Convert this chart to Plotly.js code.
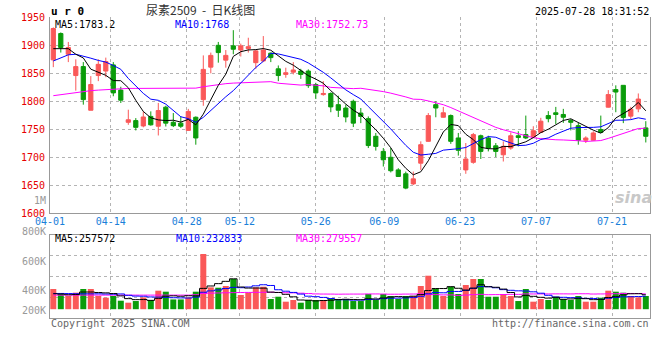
<!DOCTYPE html>
<html>
<head>
<meta charset="utf-8">
<script src="https://cdn.plot.ly/plotly-3.0.1.min.js"></script>
<style>html,body{margin:0;padding:0;background:#fff;}#chart{width:660px;height:360px;}</style>
</head>
<body>
<div id="chart"></div>
<script>
// ---- data ----
const dates = ['04-01','04-02','04-03','04-07','04-08','04-09','04-10','04-11','04-14','04-15',
 '04-16','04-17','04-18','04-21','04-22','04-23','04-24','04-25','04-28','04-29',
 '04-30','05-06','05-07','05-08','05-09','05-12','05-13','05-14','05-15','05-16',
 '05-19','05-20','05-21','05-22','05-23','05-26','05-27','05-28','05-29','05-30',
 '06-03','06-04','06-05','06-06','06-09','06-10','06-11','06-12','06-13','06-16',
 '06-17','06-18','06-19','06-20','06-23','06-24','06-25','06-26','06-27','06-30',
 '07-01','07-02','07-03','07-04','07-07','07-08','07-09','07-10','07-11','07-14',
 '07-15','07-16','07-17','07-18','07-21','07-22','07-23','07-24','07-25','07-28'];
const opens = [1874,1921,1884,1846,1862,1784,1846,1854,1865,1820,
 1762.5,1765.5,1756,1773,1755.5,1789.5,1762.5,1761,1748,1771.5,
 1803,1861,1900,1873.5,1899,1891.5,1894,1869,1872,1886,
 1858,1848,1852,1854,1854,1830,1812,1814,1794,1788,
 1800,1779,1769,1737.5,1710.5,1700,1677.5,1670.5,1652.5,1689.5,
 1728.5,1794,1771.5,1774.5,1734.5,1677.5,1691,1738.5,1734.5,1720.5,
 1704.5,1716.5,1738.5,1740.5,1736.5,1744.5,1774.5,1779.5,1776.5,1765.5,
 1756.5,1730.5,1730.5,1749.5,1789.5,1821,1828.5,1773.5,1786.5,1752.5];
const highs = [1932,1923,1906,1875,1870,1845,1875,1878,1870,1826,
 1785,1770,1782,1782,1797,1792,1779,1773,1786.5,1773,
 1882,1887,1906,1891.5,1927,1903,1913.5,1891.5,1916.5,1887,
 1864,1860,1870,1858,1857,1833,1836,1816,1810,1794,
 1803,1788,1773,1743.5,1716.5,1716.5,1680.5,1674.5,1674.5,1728.5,
 1779,1800,1790,1776.5,1743.5,1725.5,1743.5,1740.5,1738.5,1725.5,
 1728.5,1744.5,1746.5,1774.5,1755.5,1770.5,1782.5,1790,1786.5,1768.5,
 1761.5,1737.5,1746.5,1774.5,1820,1828.5,1828.5,1790,1814,1764.5];
const lows = [1861,1887,1870,1819,1794,1784,1836,1843,1809,1797,
 1758,1748,1753.5,1756.5,1739,1755,1754,1752.5,1747,1722.5,
 1792,1850,1869,1860,1884,1880,1887,1858,1870,1870,
 1836,1842,1848,1840,1824,1804,1810,1780.5,1772,1762.5,
 1754,1761,1716.5,1712,1683.5,1673,1665.5,1643,1650.5,1677.5,
 1728,1771.5,1771,1724,1703,1670.5,1688.5,1697,1710.5,1700.5,
 1692.5,1713.5,1719.5,1732.5,1734.5,1743.5,1762.5,1759.5,1761.5,1748,
 1722.5,1725.5,1730,1743.5,1789,1780.5,1761,1768.5,1780.5,1726.5];
const closes = [1930,1896,1896,1862,1803,1830,1866,1871,1815,1802,
 1767,1753.5,1772,1758,1783.5,1761,1756.5,1755.5,1782,1734.5,
 1857,1882,1887,1882,1893,1899,1897.5,1890,1891.5,1878,
 1846,1851,1856,1848,1828,1815,1814,1790,1784,1772,
 1761,1773,1721,1719.5,1695.5,1676,1665.7,1645,1661.5,1722.5,
 1774.5,1788,1779.5,1728.5,1712.5,1697,1740.5,1710.5,1716.5,1710.5,
 1719.5,1738.5,1735.5,1734.5,1747.5,1764.5,1769,1776.5,1771.5,1762.5,
 1730.5,1734.5,1743.5,1744.5,1812,1816.5,1771,1786,1804,1737.5];
const volumes = [366000,286000,239000,299000,366000,366000,239000,208000,239000,154000,
 118000,148000,214000,167000,335000,317000,177000,177000,214000,317000,
 999000,395000,389000,420000,547000,257000,299000,395000,407000,185000,
 226000,136000,167000,118000,167000,167000,167000,195000,185000,185000,
 148000,148000,275000,167000,275000,239000,185000,239000,239000,420000,
 606000,366000,239000,407000,275000,438000,547000,547000,226000,226000,
 275000,239000,148000,366000,136000,185000,167000,226000,185000,167000,
 239000,136000,136000,208000,335000,317000,299000,239000,214000,239000];
// moving-average values before a full window exists
const ma5Head  = [1894,1894,1894,1884];
const ma10Head = [1872,1878,1883,1884,1881,1877,1873,1870,1864];
const ma30Head = [1810,1812,1814,1816,1818,1819,1820,1821,1822,1822.5,
 1823,1823,1823,1823,1823,1823,1823,1823,1823,1823.5,
 1826,1828,1830,1831.5,1832.5,1833,1833.5,1834,1834.5];
const volMa5Head  = [280000,275000,262000,265000];
const volMa10Head = [285000,285000,283000,280000,278000,278000,278000,275000,272000];
const volMa30Head = [255000,255000,255000,255000,255000,255000,255000,255000,255000,255000,
 255000,255000,255000,255000,255000,255000,255000,255000,255000,262000,
 285000,290000,294000,297000,300000,302000,304000,305000,306000];
const tickDates = ['04-01','04-14','04-28','05-12','05-26','06-09','06-23','07-07','07-21'];
const priceTicks = [1600,1650,1700,1750,1800,1850,1900,1950];
const volTickLabels = ['800K','600K','400K','200K'];
const priceLegend = ['MA5:1783.2','MA10:1768','MA30:1752.73'];
const volLegend = ['MA5:257572','MA10:232833','MA30:279557'];

// ---- styling ----
const UP = '#fa5858', DOWN = '#0a9c0a';
const MONO = '"DejaVu Sans Mono", monospace';
const XBLUE = '#1a80d9', PRED = '#e60000', GRAY = '#999999';
const W = 660, H = 360;
const N = dates.length;
const X0 = -0.44, X1 = X0 + N;

function sma(src, n, head) {
  return src.map((_, i) => {
    if (i < n - 1) return head[i];
    let s = 0;
    for (let k = i - n + 1; k <= i; k++) s += src[k];
    return s / n;
  });
}
const xs = dates.map((_, i) => i);
const ma5 = sma(closes, 5, ma5Head), ma10 = sma(closes, 10, ma10Head), ma30 = sma(closes, 30, ma30Head);
const vma5 = sma(volumes, 5, volMa5Head), vma10 = sma(volumes, 10, volMa10Head), vma30 = sma(volumes, 30, volMa30Head);
const barColors = closes.map((c, i) => c >= opens[i] ? UP : DOWN);

const tickVals = tickDates.map(d => X0 + dates.indexOf(d) * N / (N - 1));

const traces = [
  {type:'candlestick', x:xs, open:opens, high:highs, low:lows, close:closes, xaxis:'x', yaxis:'y',
   increasing:{line:{color:UP,width:1}, fillcolor:UP}, decreasing:{line:{color:DOWN,width:1}, fillcolor:DOWN},
   whiskerwidth:0, hoverinfo:'skip', showlegend:false},
  {type:'scatter', mode:'lines', x:xs, y:ma30, line:{color:'#ff00ff', width:1}, xaxis:'x', yaxis:'y', hoverinfo:'skip'},
  {type:'scatter', mode:'lines', x:xs, y:ma10, line:{color:'#0000ff', width:1}, xaxis:'x', yaxis:'y', hoverinfo:'skip'},
  {type:'scatter', mode:'lines', x:xs, y:ma5, line:{color:'#000000', width:1}, xaxis:'x', yaxis:'y', hoverinfo:'skip'},
  {type:'bar', x:xs, y:volumes, marker:{color:barColors, line:{width:0}}, xaxis:'x2', yaxis:'y2', hoverinfo:'skip'},
  {type:'scatter', mode:'lines', x:xs, y:vma30, line:{color:'#ff00ff', width:1, shape:'hvh'}, xaxis:'x2', yaxis:'y2', hoverinfo:'skip'},
  {type:'scatter', mode:'lines', x:xs, y:vma10, line:{color:'#0000ff', width:1, shape:'hvh'}, xaxis:'x2', yaxis:'y2', hoverinfo:'skip'},
  {type:'scatter', mode:'lines', x:xs, y:vma5, line:{color:'#000000', width:1, shape:'hvh'}, xaxis:'x2', yaxis:'y2', hoverinfo:'skip'}
];

const fy = py => 1 - py / H;
const fx = px => px / W;
const VR0 = -159000, VR1 = 1348000;

function note(text, px, py, xanchor, color, size, extra) {
  return Object.assign({text:text, x:fx(px), y:fy(py), xref:'paper', yref:'paper', showarrow:false,
    xanchor:xanchor, yanchor:'middle', font:{family:MONO, size:size||10, color:color||'#000'}, borderpad:0}, extra||{});
}
const volLabelY = [231.5, 261.7, 290.7, 310.7];
const annotations = [
  note('u r 0', 50, 12, 'left', '#000', 11, {font:{family:MONO, size:11, color:'#000', weight:'bold'}}),
  note('尿素2509 \u00a0-\u00a0 日K线图', 200, 9, 'center', '#333', 12, {font:{family:'"Noto Sans CJK SC", sans-serif', size:12, color:'#333'}}),
  note('2025-07-28 18:31:52', 650, 12, 'right', '#000', 10),
  note(priceLegend[0], 54, 24.5, 'left', '#000'),
  note(priceLegend[1], 174, 24.5, 'left', '#0000ff'),
  note(priceLegend[2], 295, 24.5, 'left', '#ff00ff'),
  note(volLegend[0], 54, 238.5, 'left', '#000'),
  note(volLegend[1], 174.5, 238.5, 'left', '#0000ff'),
  note(volLegend[2], 295, 238.5, 'left', '#ff00ff'),
  note('1M', 47, 200, 'right', GRAY),
  note('Copyright 2025 SINA.COM', 50, 323.5, 'left', '#666'),
  note('http://finance.sina.com.cn', 650, 323.5, 'right', '#666'),
  note('sina', 633, 197, 'center', '#c8c8c8', 16, {font:{family:'"DejaVu Sans", sans-serif', size:16, color:'#c8c8c8', style:'italic', weight:'bold'}})
].concat(volTickLabels.map((t, i) => note(t, 47, volLabelY[i], 'right', GRAY)));

const gridStyle = {showgrid:true, gridcolor:'#b4b4b4', griddash:'dot', gridwidth:1, zeroline:false};
const layout = {
  width:W, height:H, margin:{l:0, r:0, t:0, b:0}, paper_bgcolor:'#fff', plot_bgcolor:'#fff',
  showlegend:false, bargap:0.2, boxgap:0.2, hovermode:false,
  xaxis:Object.assign({domain:[fx(50), fx(650)], range:[X0, X1], anchor:'y', tickmode:'array',
    tickvals:tickVals, ticktext:tickDates, tickfont:{family:MONO, size:10, color:XBLUE},
    ticks:'', ticklabelstandoff:-1, showline:true, linecolor:'#999', linewidth:1,
    rangeslider:{visible:false}, fixedrange:true}, gridStyle),
  yaxis:Object.assign({domain:[fy(213.3), fy(17.3)], range:[1600, 1950], anchor:'x', tickmode:'array',
    tickvals:priceTicks, ticktext:priceTicks.map(String), tickfont:{family:MONO, size:10, color:PRED},
    ticks:'outside', ticklen:2, tickcolor:'rgba(0,0,0,0)', showline:true, mirror:true, linecolor:'#999', linewidth:1,
    fixedrange:true}, gridStyle),
  xaxis2:Object.assign({domain:[fx(50), fx(650)], range:[X0, X1], anchor:'y2', matches:'x', tickmode:'array',
    tickvals:tickVals, showticklabels:false, ticks:'', showline:true, mirror:true, linecolor:'#999', linewidth:1,
    fixedrange:true}, gridStyle),
  yaxis2:Object.assign({domain:[fy(318), fy(234.7)], range:[VR0, VR1], anchor:'x2', tickmode:'array',
    tickvals:[0.25, 0.5, 0.75].map(q => VR0 + (VR1 - VR0) * q), showticklabels:false, ticks:'',
    showline:true, mirror:true, linecolor:'#999', linewidth:1, fixedrange:true}, gridStyle),
  annotations:annotations
};
Plotly.newPlot('chart', traces, layout, {staticPlot:true, displayModeBar:false});
</script>
</body>
</html>
